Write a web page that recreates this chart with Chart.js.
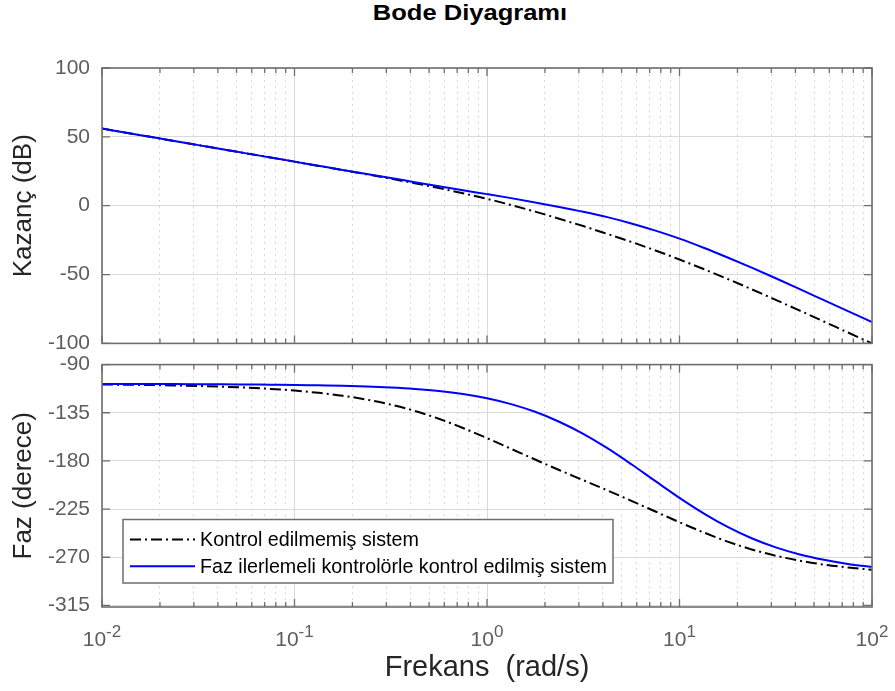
<!DOCTYPE html>
<html>
<head>
<meta charset="utf-8">
<script src="https://cdn.jsdelivr.net/npm/chart.js@4.4.1/dist/chart.umd.min.js"></script>
<style>
  html, body { margin: 0; padding: 0; background: #fff; }
  #wrap { position: relative; width: 895px; height: 691px; overflow: hidden; background: #fff; }
  canvas { position: absolute; left: 0; }
  #top { top: 0; }
  #bottom { top: 340px; }
  #title { position: absolute; left: 0; top: 1px; width: 940px; text-align: center;
           font: bold 22px "Liberation Sans", Arial, Helvetica, sans-serif; line-height: 24px; color: #000;
           transform: scaleX(1.16); transform-origin: 470px 0; }
</style>
</head>
<body>
<div id="wrap">
  <div id="title">Bode Diyagramı</div>
  <canvas id="top" width="895" height="368"></canvas>
  <canvas id="bottom" width="895" height="351"></canvas>
</div>
<script>
// ---------------- data ----------------
const frequency = [0.01, 0.01334, 0.01778, 0.02371, 0.03162, 0.04217, 0.05623, 0.07499,
  0.1, 0.1334, 0.1778, 0.2371, 0.3162, 0.4217, 0.5623, 0.7499,
  1, 1.334, 1.778, 2.371, 3.162, 4.217, 5.623, 7.499,
  10, 13.34, 17.78, 23.71, 31.62, 42.17, 56.23, 74.99, 100];

const gainUncontrolled = [56.0, 53.0, 50.0, 47.0, 44.0, 41.0, 38.0, 35.0,
  32.0, 28.9, 25.9, 22.8, 19.6, 16.3, 12.8, 9.0,
  5.0, 0.5, -4.3, -9.5, -14.8, -20.5, -26.3, -32.5,
  -39.1, -46.0, -53.2, -60.7, -68.4, -76.2, -84.1, -92.1, -100.0];

const gainControlled = [56.0, 53.0, 50.0, 47.0, 44.0, 41.0, 38.0, 35.0,
  32.0, 29.0, 26.0, 23.0, 20.1, 17.1, 14.2, 11.2,
  8.4, 5.5, 2.4, -0.9, -4.4, -8.3, -12.9, -18.1,
  -23.9, -30.5, -37.6, -45.0, -52.7, -60.6, -68.6, -76.6, -84.5];

const phaseUncontrolled = [-108.6, -108.8, -109.1, -109.5, -110.0, -110.7, -111.5, -112.7,
  -114.3, -116.4, -119.1, -122.7, -127.4, -133.3, -140.6, -149.2,
  -158.7, -168.7, -178.7, -188.5, -198.0, -207.5, -217.3, -227.3,
  -237.3, -246.8, -255.4, -262.7, -268.6, -273.3, -276.9, -279.6, -281.7];

const phaseControlled = [-108.1, -108.1, -108.2, -108.2, -108.3, -108.4, -108.6, -108.8,
  -109.0, -109.4, -109.8, -110.5, -111.4, -112.7, -114.6, -117.4,
  -121.4, -126.9, -134.1, -143.4, -154.7, -168.1, -183.1, -198.9,
  -214.5, -229.0, -241.7, -252.3, -260.8, -267.4, -272.4, -276.3, -279.2];

const gainTicks = [-100, -50, 0, 50, 100];
const phaseTicks = [-315, -270, -225, -180, -135, -90];
const freqDecades = [0.01, 0.1, 1, 10, 100];
const freqExponents = ['-2', '-1', '0', '1', '2'];
const seriesLabels = ['Kontrol edilmemiş sistem', 'Faz ilerlemeli kontrolörle kontrol edilmiş sistem'];
const titles = { gain: 'Kazanç (dB)', phase: 'Faz (derece)', freq: 'Frekans  (rad/s)' };

// ---------------- styling ----------------
const FONT = '"Liberation Sans", Arial, Helvetica, sans-serif';
const TICK_COLOR = '#5e5e5e';
const LABEL_COLOR = '#262626';
const AXIS_COLOR = '#6e6e6e';
const GRID_MAJOR = 'rgba(218,218,218,1)';
const GRID_MINOR = 'rgba(205,205,205,1)';

function isDecade(v) {
  const l = Math.log10(v);
  return Math.abs(l - Math.round(l)) < 1e-6;
}
// minor + major tick positions of the log axis (1..9 x each decade)
const freqTickValues = [];
for (let d = 0; d < freqDecades.length - 1; d++) {
  for (let m = 1; m <= 9; m++) freqTickValues.push(m * freqDecades[d]);
}
freqTickValues.push(freqDecades[freqDecades.length - 1]);

const pts = (ys) => frequency.map((f, i) => ({ x: f, y: ys[i] }));

const blackStyle = { borderColor: '#000000', borderWidth: 2, borderDash: [11, 4, 2, 4] };
const blueStyle = { borderColor: '#0000ff', borderWidth: 2, borderDash: [] };

function makeDatasets(blackData, blueData) {
  return [
    Object.assign({ label: seriesLabels[0], data: pts(blackData), order: 2 }, blackStyle,
      { pointRadius: 0, fill: false, cubicInterpolationMode: 'monotone' }),
    Object.assign({ label: seriesLabels[1], data: pts(blueData), order: 1 }, blueStyle,
      { pointRadius: 0, fill: false, cubicInterpolationMode: 'monotone' })
  ];
}

// box + inward tick marks like MATLAB axes
const boxPlugin = {
  id: 'matlabBox',
  afterDatasetsDraw(chart) {
    const { ctx, chartArea: a, scales } = chart;
    ctx.save();
    ctx.strokeStyle = AXIS_COLOR;
    ctx.lineWidth = 1.3;
    ctx.beginPath();
    scales.x.ticks.forEach(t => {
      const px = scales.x.getPixelForValue(t.value);
      const len = isDecade(t.value) ? 8 : 5;
      ctx.moveTo(px, a.bottom); ctx.lineTo(px, a.bottom - len);
      ctx.moveTo(px, a.top); ctx.lineTo(px, a.top + len);
    });
    scales.y.ticks.forEach(t => {
      const py = scales.y.getPixelForValue(t.value);
      ctx.moveTo(a.left, py); ctx.lineTo(a.left + 8, py);
      ctx.moveTo(a.right, py); ctx.lineTo(a.right - 8, py);
    });
    ctx.stroke();
    ctx.lineWidth = 1.6;
    ctx.strokeRect(a.left, a.top, a.right - a.left, a.bottom - a.top);
    ctx.restore();
  }
};

// x tick labels with superscript exponents
const expLabelPlugin = {
  id: 'expLabels',
  afterDraw(chart) {
    const { ctx, chartArea: a, scales } = chart;
    ctx.save();
    ctx.fillStyle = TICK_COLOR;
    ctx.textAlign = 'left';
    ctx.textBaseline = 'alphabetic';
    freqDecades.forEach((v, i) => {
      const px = scales.x.getPixelForValue(v);
      ctx.font = '21px ' + FONT;
      const w1 = ctx.measureText('10').width;
      ctx.font = '17px ' + FONT;
      const w2 = ctx.measureText(freqExponents[i]).width;
      const start = px - (w1 + w2) / 2;
      ctx.font = '21px ' + FONT;
      ctx.fillText('10', start, a.bottom + 39);
      ctx.font = '17px ' + FONT;
      ctx.fillText(freqExponents[i], start + w1, a.bottom + 30);
    });
    ctx.restore();
  }
};

// boxed legend inside the phase axes (lower left)
const legendPlugin = {
  id: 'boxLegend',
  afterDraw(chart) {
    const { ctx, chartArea: a } = chart;
    const ds = chart.data.datasets;
    ctx.save();
    ctx.font = '19.7px ' + FONT;
    const textW = Math.max(...ds.map(d => ctx.measureText(d.label).width));
    const x0 = a.left + 21, h = 63.5, y0 = a.bottom - 24 - h;
    const w = 77 + textW + 6;
    ctx.fillStyle = '#ffffff';
    ctx.fillRect(x0, y0, w, h);
    ctx.strokeStyle = AXIS_COLOR;
    ctx.lineWidth = 1.5;
    ctx.strokeRect(x0, y0, w, h);
    ds.forEach((d, i) => {
      const y = y0 + 20 + i * 26.7;
      ctx.beginPath();
      ctx.strokeStyle = d.borderColor;
      ctx.lineWidth = d.borderWidth;
      ctx.setLineDash(d.borderDash || []);
      ctx.moveTo(x0 + 7, y);
      ctx.lineTo(x0 + 72, y);
      ctx.stroke();
      ctx.setLineDash([]);
      ctx.fillStyle = '#000';
      ctx.textBaseline = 'middle';
      ctx.textAlign = 'left';
      ctx.fillText(d.label, x0 + 77, y + 1);
    });
    ctx.restore();
  }
};

function xAxis(showTitle, fitHeight) {
  return {
    type: 'logarithmic',
    min: freqDecades[0],
    max: freqDecades[freqDecades.length - 1],
    afterBuildTicks: (s) => { s.ticks = freqTickValues.map(v => ({ value: v, major: isDecade(v) })); },
    afterFit: (s) => { s.height = fitHeight; },
    ticks: { display: false, autoSkip: false },
    grid: {
      drawTicks: false,
      lineWidth: 1,
      color: (c) => (c.tick && isDecade(c.tick.value)) ? GRID_MAJOR : GRID_MINOR
    },
    border: {
      display: false,
      dash: (c) => (c.tick && !isDecade(c.tick.value)) ? [1.5, 4.5] : []
    },
    title: {
      display: showTitle,
      text: titles.freq,
      color: LABEL_COLOR,
      font: { family: FONT, size: 29 },
      padding: { top: 0, bottom: 6 }
    }
  };
}

function yAxis(min, max, tickVals, titleText) {
  return {
    type: 'linear',
    min: min, max: max,
    afterBuildTicks: (s) => { s.ticks = tickVals.map(v => ({ value: v })); },
    afterFit: (s) => { s.width = 102; },
    ticks: { color: TICK_COLOR, font: { family: FONT, size: 21 }, padding: 12, autoSkip: false },
    grid: { drawTicks: false, color: GRID_MAJOR, lineWidth: 1 },
    border: { display: false },
    title: {
      display: true,
      text: titleText,
      color: LABEL_COLOR,
      font: { family: FONT, size: 26 },
      padding: { top: 8, bottom: 0 }
    }
  };
}

const common = {
  responsive: false,
  animation: false,
  devicePixelRatio: 1,
  plugins: { legend: { display: false }, tooltip: { enabled: false }, title: { display: false } },
  elements: { line: { tension: 0 } }
};

new Chart(document.getElementById('top'), {
  type: 'line',
  data: { datasets: makeDatasets(gainUncontrolled, gainControlled) },
  options: Object.assign({}, common, {
    layout: { padding: { top: 68, right: 23, bottom: 18, left: 0 } },
    scales: { x: xAxis(false, 0), y: yAxis(-100, 100, gainTicks, titles.gain) }
  }),
  plugins: [boxPlugin]
});

new Chart(document.getElementById('bottom'), {
  type: 'line',
  data: { datasets: makeDatasets(phaseUncontrolled, phaseControlled) },
  options: Object.assign({}, common, {
    layout: { padding: { top: 13, right: 23, bottom: 0, left: 0 } },
    scales: { x: xAxis(true, 84), y: yAxis(-316.5, -90, phaseTicks, titles.phase) }
  }),
  plugins: [boxPlugin, expLabelPlugin, legendPlugin]
});
</script>
</body>
</html>
